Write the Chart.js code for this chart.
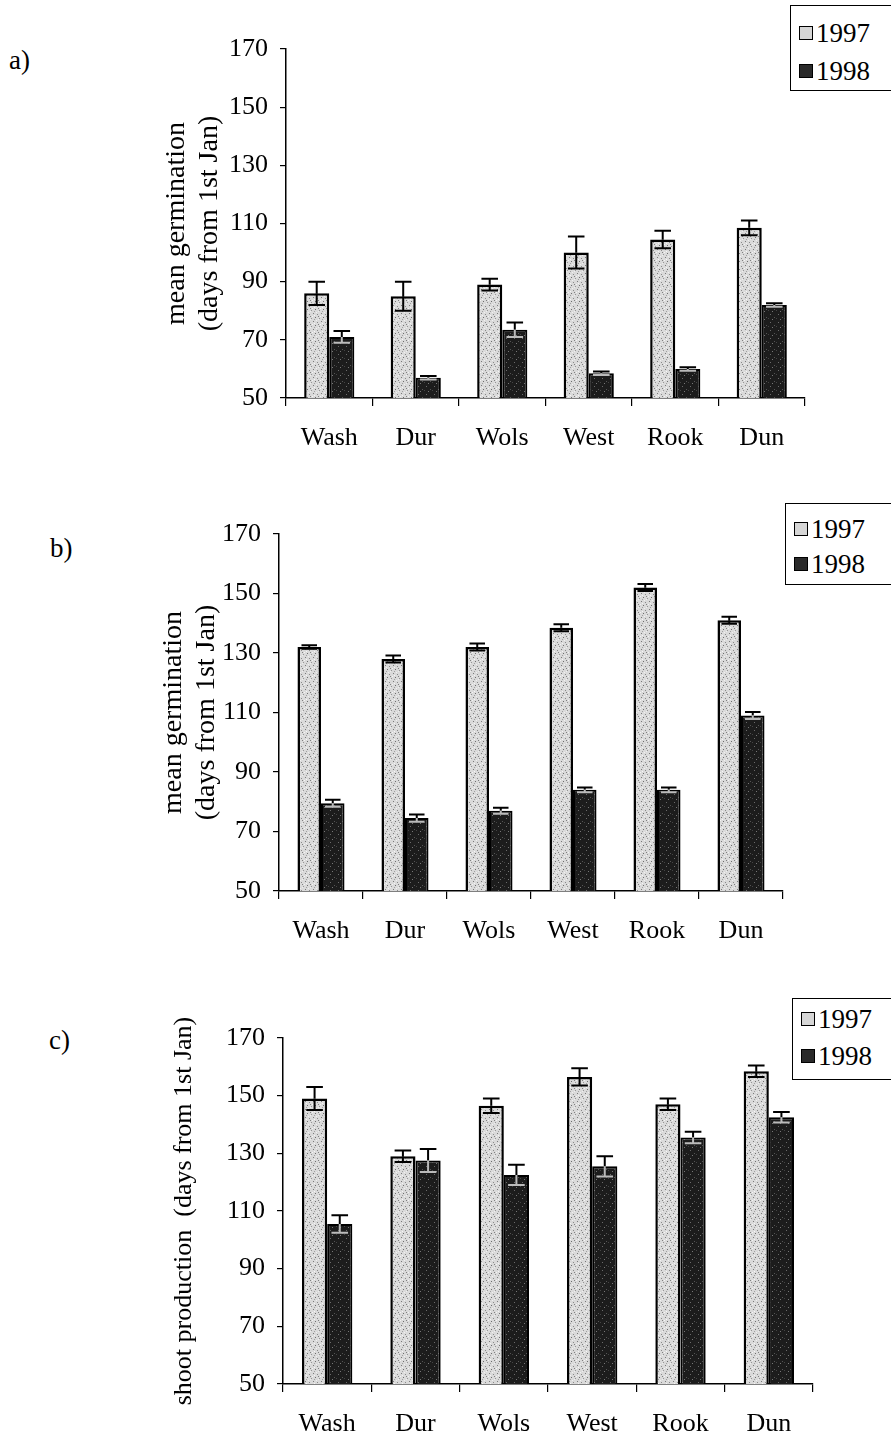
<!DOCTYPE html>
<html>
<head>
<meta charset="utf-8">
<script src="https://cdn.jsdelivr.net/npm/chart.js@4.4.1/dist/chart.umd.min.js"></script>
<style>
  body { margin: 0; width: 891px; height: 1440px; background: #fff; position: relative; overflow: hidden;
         font-family: "Liberation Serif", "Times New Roman", serif; color: #000; }
  canvas { position: absolute; left: 0; }
  .panel { position: absolute; font-family: "Liberation Serif", serif; font-size: 27px; line-height: 30px; }
  .legend { position: absolute; width: 120px; border: 1px solid #000; background: #fff; }
  .row { position: absolute; left: 8px; font-family: "Liberation Serif", serif; font-size: 27px; line-height: 30px;
         display: flex; align-items: center; }
  .sw { width: 12px; height: 12px; border: 1.5px solid #000; margin-right: 3px; }
  .sw.y97 { background: #d6d6d6; }
  .sw.y98 { background: #2a2a2a; }
</style>
</head>
<body>
<div class="panel" style="left:9px;top:45px">a)</div>
<div class="panel" style="left:50px;top:533px">b)</div>
<div class="panel" style="left:49px;top:1025px">c)</div>

<canvas id="chartA" width="891" height="470" style="top:0px"></canvas>
<canvas id="chartB" width="891" height="483" style="top:480px"></canvas>
<canvas id="chartC" width="891" height="460" style="top:980px"></canvas>

<div class="legend" style="left:790px;top:5px;height:84px">
  <div class="row" style="top:12px"><span class="sw y97"></span>1997</div>
  <div class="row" style="top:50px"><span class="sw y98"></span>1998</div>
</div>
<div class="legend" style="left:785px;top:503px;height:80px">
  <div class="row" style="top:10px"><span class="sw y97"></span>1997</div>
  <div class="row" style="top:45px"><span class="sw y98"></span>1998</div>
</div>
<div class="legend" style="left:792px;top:998px;height:80px">
  <div class="row" style="top:5px"><span class="sw y97"></span>1997</div>
  <div class="row" style="top:42px"><span class="sw y98"></span>1998</div>
</div>

<script>
// 共通データ
const sites = ['Wash', 'Dur', 'Wols', 'West', 'Rook', 'Dun'];
const years = ['1997', '1998'];
const yMin = 50, yMax = 170, yStep = 20;

// a) mean germination
const germA97 = [86, 85, 89, 100, 104.5, 108.5];
const germA97Err = [4, 5, 2, 5.5, 3, 2.5];
const germA98 = [71, 57, 73.5, 58.5, 60, 82];
const germA98Err = [2, 0.6, 2.5, 0.6, 0.6, 0.6];

// b) mean germination
const germB97 = [132, 128, 132, 138.5, 152, 141];
const germB97Err = [0.6, 1.2, 1.2, 1.2, 1.2, 1.2];
const germB98 = [79.5, 74.5, 77, 84, 84, 109];
const germB98Err = [1.2, 1.2, 1, 0.8, 0.8, 1.2];

// c) shoot production
const shootC97 = [149, 129, 146.5, 156.5, 147, 158.5];
const shootC97Err = [4, 2, 2.5, 3, 2, 2];
const shootC98 = [105.5, 127.5, 122.5, 125.5, 135.5, 142.5];
const shootC98Err = [3, 4, 3.5, 3.5, 2, 1.8];

Chart.defaults.font.family = "'Liberation Serif', 'Times New Roman', serif";
Chart.defaults.color = '#000';

// 点描風の塗りパターン（固定配置）
function makePattern(base, dots) {
  const c = document.createElement('canvas');
  c.width = 8; c.height = 8;
  const g = c.getContext('2d');
  g.fillStyle = base;
  g.fillRect(0, 0, 8, 8);
  dots.forEach(d => {
    g.fillStyle = d[2];
    g.fillRect(d[0], d[1], 1, 1);
  });
  return g.createPattern(c, 'repeat');
}

const lightFill = makePattern('#dadada', [
  [1, 1, '#7a7a7a'], [5, 2, '#8a8a8a'], [3, 5, '#6e6e6e'], [7, 6, '#959595'],
  [2, 7, '#a0a0a0'], [6, 4, '#808080'], [0, 4, '#f4f4f4'], [4, 0, '#f0f0f0'],
  [2, 3, '#f6f6f6'], [6, 7, '#eeeeee']
]);
const darkFill = makePattern('#1c1c1c', [
  [2, 2, '#6a6a6a'], [6, 5, '#555555'], [4, 7, '#777777'], [0, 6, '#444444']
]);

// エラーバー描画
const errorBars = {
  id: 'errorBars',
  afterDatasetsDraw(chart) {
    const ctx = chart.ctx;
    const yScale = chart.scales.y;
    chart.data.datasets.forEach((ds, i) => {
      const meta = chart.getDatasetMeta(i);
      meta.data.forEach((bar, j) => {
        const v = ds.data[j];
        const e = ds.errors[j];
        const top = yScale.getPixelForValue(v + e);
        const mid = yScale.getPixelForValue(v);
        const bot = yScale.getPixelForValue(v - e);
        const half = bar.width * 0.33;
        ctx.save();
        ctx.lineWidth = 2;
        ctx.strokeStyle = '#000';
        ctx.beginPath();
        ctx.moveTo(bar.x, top); ctx.lineTo(bar.x, mid);
        ctx.moveTo(bar.x - half, top); ctx.lineTo(bar.x + half, top);
        ctx.stroke();
        ctx.strokeStyle = ds.errInner;
        ctx.beginPath();
        ctx.moveTo(bar.x, mid); ctx.lineTo(bar.x, bot);
        ctx.moveTo(bar.x - half, bot); ctx.lineTo(bar.x + half, bot);
        ctx.stroke();
        ctx.restore();
      });
    });
  }
};

function makeChart(id, v97, e97, v98, e98, cfg) {
  const ctx = document.getElementById(id).getContext('2d');
  return new Chart(ctx, {
    type: 'bar',
    data: {
      labels: sites,
      datasets: [{
        label: years[0],
        data: v97,
        errors: e97,
        errInner: '#000',
        backgroundColor: lightFill,
        borderColor: '#000',
        borderWidth: 2.5,
        categoryPercentage: cfg.cp,
        barPercentage: 1.0
      }, {
        label: years[1],
        data: v98,
        errors: e98,
        errInner: '#bbbbbb',
        backgroundColor: darkFill,
        borderColor: '#000',
        borderWidth: 2,
        categoryPercentage: cfg.cp,
        barPercentage: 1.0
      }]
    },
    options: {
      responsive: false,
      animation: false,
      devicePixelRatio: 1,
      layout: { padding: { left: cfg.left, right: cfg.right, top: cfg.top, bottom: 0 } },
      plugins: { legend: { display: false }, tooltip: { enabled: false } },
      scales: {
        x: {
          offset: true,
          grid: { offset: true, drawOnChartArea: false, drawTicks: true, tickLength: 8, color: '#000', lineWidth: 1.2 },
          border: { display: true, color: '#000', width: 1.5 },
          ticks: { font: { size: 26 }, padding: 17, maxRotation: 0, color: '#000' },
          afterFit: s => { s.height = cfg.xh; }
        },
        y: {
          min: yMin,
          max: yMax,
          ticks: { stepSize: yStep, font: { size: 26 }, padding: 12, color: '#000' },
          grid: { drawOnChartArea: false, drawTicks: true, tickLength: 6, color: '#000', lineWidth: 1.2 },
          border: { display: true, color: '#000', width: 1.5 },
          title: {
            display: true,
            text: cfg.title,
            font: { size: cfg.titleSize, lineHeight: cfg.titleLH },
            color: '#000',
            padding: { top: 0, bottom: 0 }
          },
          afterFit: s => { s.width = cfg.yw; }
        }
      }
    },
    plugins: [errorBars]
  });
}

makeChart('chartA', germA97, germA97Err, germA98, germA98Err, {
  left: 161, yw: 125, right: 86, top: 49, xh: 72, cp: 0.58,
  title: ['mean germination', '(days from 1st Jan)'], titleSize: 28, titleLH: 1.15
});
makeChart('chartB', germB97, germB97Err, germB98, germB98Err, {
  left: 158, yw: 121, right: 108, top: 54, xh: 72, cp: 0.56,
  title: ['mean germination', '(days from 1st Jan)'], titleSize: 28, titleLH: 1.15
});
makeChart('chartC', shootC97, shootC97Err, shootC98, shootC98Err, {
  left: 169, yw: 114, right: 78, top: 58, xh: 56, cp: 0.57,
  title: 'shoot production  (days from 1st Jan)', titleSize: 26, titleLH: 1.2
});
</script>
</body>
</html>
